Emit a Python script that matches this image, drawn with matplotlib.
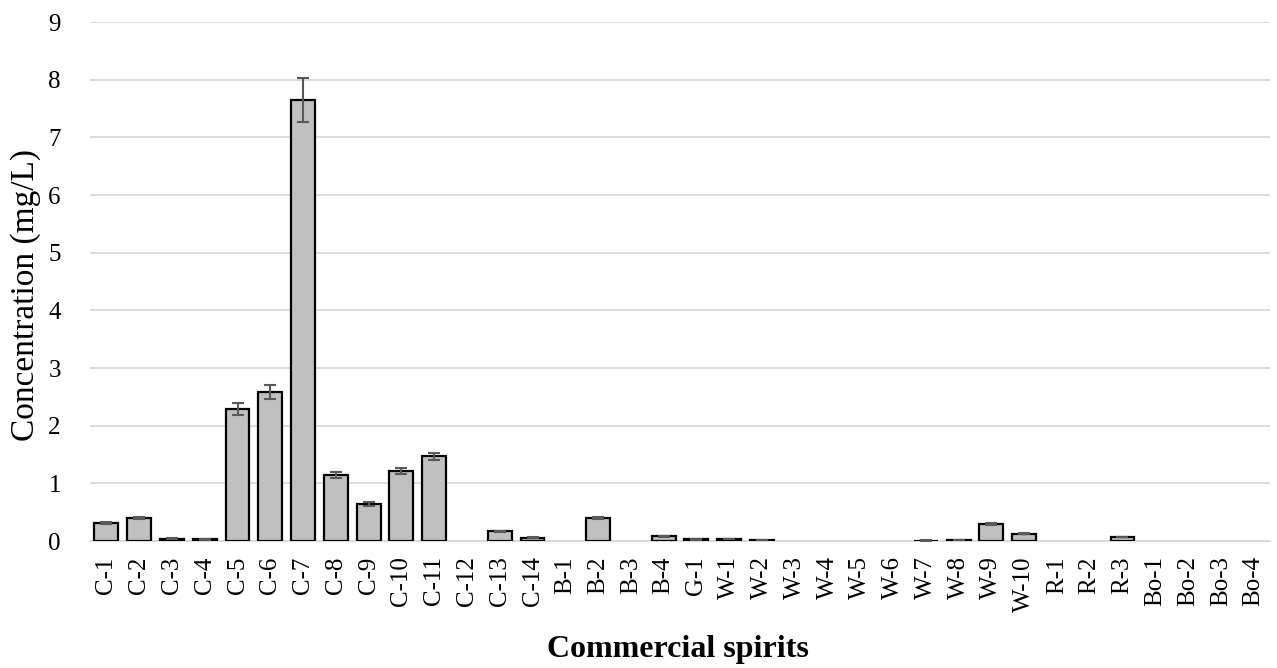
import matplotlib
matplotlib.use("Agg")
import matplotlib.pyplot as plt
import numpy as np

categories = ["C-1", "C-2", "C-3", "C-4", "C-5", "C-6", "C-7", "C-8", "C-9", "C-10",
              "C-11", "C-12", "C-13", "C-14", "B-1", "B-2", "B-3", "B-4", "G-1",
              "W-1", "W-2", "W-3", "W-4", "W-5", "W-6", "W-7", "W-8", "W-9", "W-10",
              "R-1", "R-2", "R-3", "Bo-1", "Bo-2", "Bo-3", "Bo-4"]
values = [0.31, 0.40, 0.04, 0.03, 2.29, 2.58, 7.65, 1.15, 0.64, 1.22,
          1.47, 0.0, 0.17, 0.06, 0.0, 0.40, 0.0, 0.08, 0.03,
          0.04, 0.02, 0.0, 0.0, 0.0, 0.0, 0.01, 0.02, 0.30, 0.13,
          0.0, 0.0, 0.07, 0.0, 0.0, 0.0, 0.0]
errors = [0.02, 0.02, 0.005, 0.005, 0.10, 0.12, 0.38, 0.05, 0.03, 0.05,
          0.06, 0.0, 0.01, 0.005, 0.0, 0.02, 0.0, 0.005, 0.003,
          0.003, 0.002, 0.0, 0.0, 0.0, 0.0, 0.001, 0.002, 0.02, 0.01,
          0.0, 0.0, 0.005, 0.0, 0.0, 0.0, 0.0]
yticks = list(range(0, 10))

plt.rcParams['font.family'] = ['Liberation Serif', 'DejaVu Serif']

fig = plt.figure(figsize=(12.77, 6.68), dpi=100)
ax = fig.add_axes([0.0705, 0.19, 0.924, 0.777])

x = np.arange(len(categories))
vals = np.array(values)
errs = np.array(errors, dtype=float)
lws = [1.6 if v > 0 else 0 for v in vals]
ax.bar(x, vals, width=0.73, color="#c0c0c0", edgecolor="black", linewidth=lws, zorder=3)
nz = vals > 0
ax.errorbar(x[nz], vals[nz], yerr=errs[nz], fmt="none", ecolor="#595959", elinewidth=1.5,
            capsize=4.5, capthick=1.5, zorder=4)

ax.set_ylim(0, 9)
ax.set_xlim(-0.5, len(categories) - 0.5)
ax.set_yticks(yticks)
ax.set_yticklabels([str(t) for t in yticks], fontsize=18)
ax.set_xticks(x)
ax.set_xticklabels(categories, rotation=90, fontsize=18)
ax.tick_params(axis="both", length=0)
ax.tick_params(axis="y", pad=21)
ax.tick_params(axis="x", pad=11)

ax.yaxis.grid(True, color="#d9d9d9", linewidth=1.3, zorder=0)
ax.set_axisbelow(True)
for s in ["top", "right", "left"]:
    ax.spines[s].set_visible(False)
ax.spines["bottom"].set_color("#d9d9d9")
ax.spines["bottom"].set_linewidth(1.3)

fig.text(26 / 1277, 1 - 295 / 668, "Concentration (mg/L)", fontsize=24,
         rotation=90, ha="center", va="center")
fig.text(678 / 1277, 1 - 657 / 668, "Commercial spirits", fontsize=23,
         fontweight="bold", ha="center", va="baseline")

fig.savefig("out.png", dpi=100)
